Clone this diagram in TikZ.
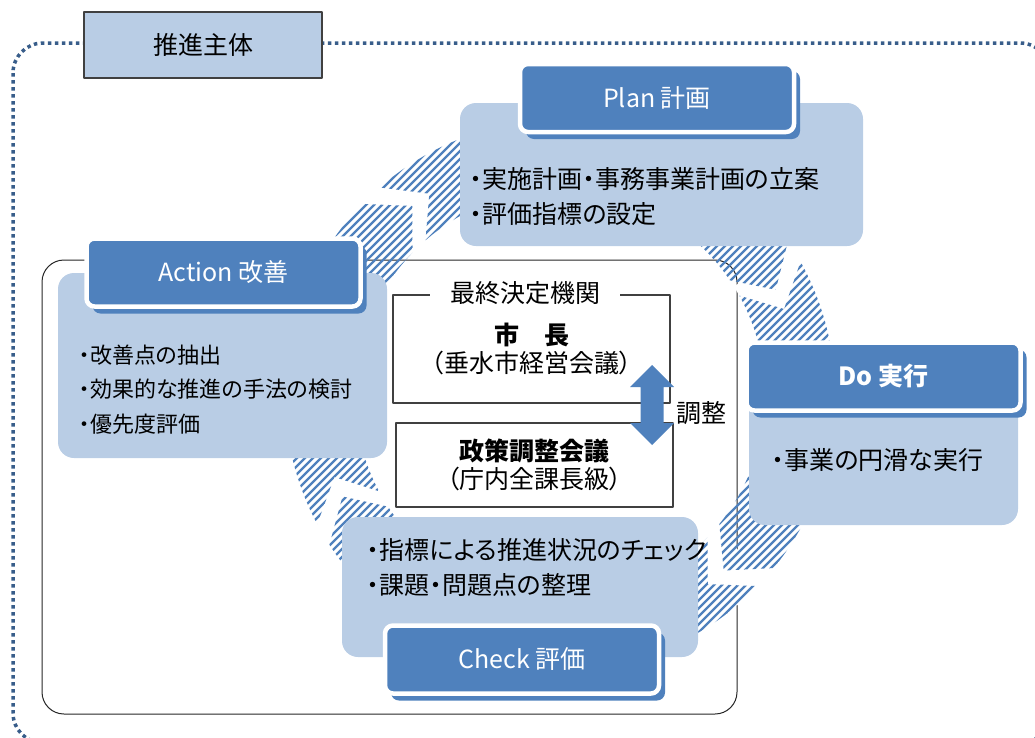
\documentclass[tikz,border=0pt]{standalone}
\usepackage{fontspec}
\setmainfont{Noto Sans CJK JP}[RawFeature=+palt]
\usepackage{tikz}
\usetikzlibrary{positioning}
\usetikzlibrary{shadows}

\definecolor{hdrblue}{HTML}{4F81BD}
\definecolor{panelblue}{HTML}{B9CDE5}
\definecolor{dotblue}{HTML}{385D8A}
\definecolor{framegray}{HTML}{404040}

\tikzset{
  hdr/.style={draw=white,line width=4.5pt,fill=hdrblue,rounded corners=8pt,
    minimum width=274pt,minimum height=68pt,text=white,inner sep=0pt,
    font=\fontsize{25}{30}\selectfont,
    drop shadow={shadow xshift=6pt,shadow yshift=-7pt,fill=hdrblue,opacity=1}},
  panel/.style={fill=panelblue,rounded corners=16pt},
  item/.style={anchor=west,inner sep=0pt,align=left,font=\fontsize{25}{34.5}\selectfont},
  council/.style={draw=framegray,line width=1.2pt,fill=white,align=center,
    font=\fontsize{25}{27.5}\selectfont},
  hatch/.style={hdrblue,line width=2.2pt}
}

\begin{document}
\begin{tikzpicture}[line cap=butt,line join=round,x=1pt,y=-1pt]
\useasboundingbox (0,0) rectangle (1035,737);
% outer frame
\draw[dotblue,line width=3.5pt,dash pattern=on 3.5pt off 3.5pt,rounded corners=30pt] (13,43) rectangle (1050,743);
\node[draw=framegray,line width=1.3pt,fill=panelblue,minimum width=238pt,minimum height=66pt,
  font=\fontsize{25}{30}\selectfont] (org) at (203,45) {推進主体};
\draw[black!85,line width=1pt,rounded corners=22pt] (42,260) rectangle (737,714);
% PDCA ring
\begin{scope}[shift={(560,395)}]
\foreach \g in {-130,-28,45,153}
  \fill[white] ({\g-4}:205) arc[start angle=\g-4,end angle=\g+5,radius=205]
    -- ({\g+5}:275) arc[start angle=\g+5,end angle=\g-4,radius=275] -- cycle;
\foreach \ga/\gb in {-130/-28,-28/45,45/153,153/230}{
  \begin{scope}
  \clip ({\ga-1}:275) arc[start angle=\ga-1,end angle=\gb-6,radius=275]
    -- ({\gb+2}:240) -- ({\gb-6}:205)
    arc[start angle=\gb-6,end angle=\ga-1,radius=205] -- ({\ga+7}:240) -- cycle;
  \foreach \k in {-640,-632,...,640}
    \draw[hatch] (\k-320,320) -- (\k+320,-320);
  \end{scope}
}
\end{scope}
% panels
\fill[panel] (460,103) rectangle (863,246);
\fill[panel] (58,273) rectangle (387,458);
\fill[panel] (749,390) rectangle (1018,525);
\fill[panel] (342,517) rectangle (698,657);
\node[item] (plantxt) at (470,196.5) {・実施計画・事務事業計画の立案\\・評価指標の設定};
\node[item,font=\fontsize{22}{34.5}\selectfont] (acttxt) at (79,389.5) {・改善点の抽出\\・効果的な推進の手法の検討\\・優先度評価};
\node[item] (dotxt) at (772,460) {・事業の円滑な実行};
\node[item] (checktxt) at (367,567.5) {・指標による推進状況のチェック\\・課題・問題点の整理};
% headers
\node[hdr] (plan) at (657,98) {Plan 計画};
\node[hdr] (act) at (223.5,272.5) {Action 改善};
\node[hdr,font=\bfseries\fontsize{25}{30}\selectfont] (do) at (883.5,376.5) {Do 実行};
\node[hdr] (check) at (522,659.5) {Check 評価};
% decision bodies
\node[council,minimum width=277pt,minimum height=108pt] (mayor) at (531.5,349) {\textbf{市　長}\\（垂水市経営会議）};
\node[fill=white,inner xsep=20pt,inner ysep=0pt,font=\fontsize{25}{30}\selectfont] (final) at (525,293) {最終決定機関};
\node[council,minimum width=277pt,minimum height=84pt] (policy) at (534.5,465) {\textbf{政策調整会議}\\（庁内全課長級）};
\fill[hdrblue] (652,365) -- ++(22,22) -- ++(-10.5,0) -- ++(0,36) -- ++(10.5,0) -- ++(-22,22)
  -- ++(-22,-22) -- ++(10.5,0) -- ++(0,-36) -- ++(-10.5,0) -- cycle;
\node[font=\fontsize{25}{30}\selectfont] (adj) at (701,413) {調整};
\end{tikzpicture}
\end{document}
